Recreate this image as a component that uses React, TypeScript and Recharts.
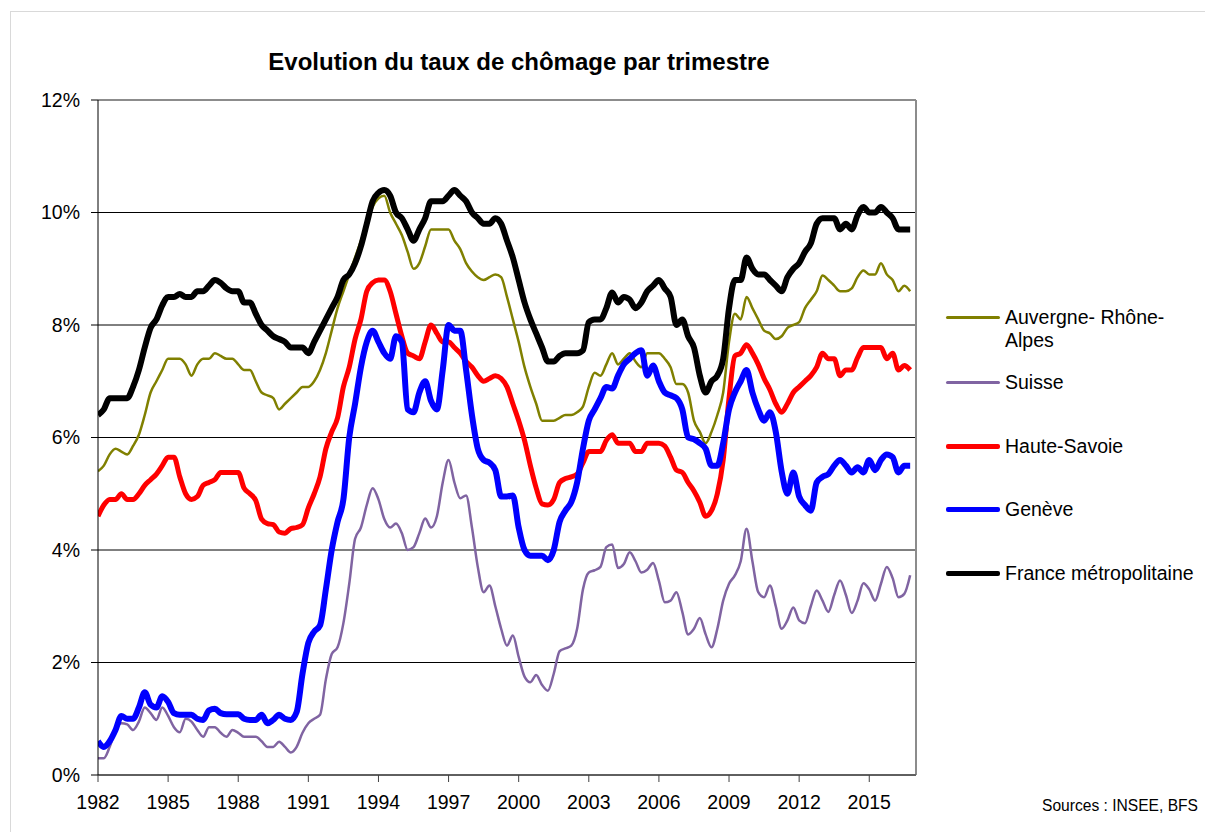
import React from 'react';
import { LineChart, Line, XAxis, YAxis, CartesianGrid, ReferenceLine } from 'recharts';

const FONT = '"Liberation Sans", Arial, sans-serif';

// quarters from 1982 T1 to 2016 T4
const quarters = Array.from({ length: 140 }, (_, i) => 1982 + i / 4);
const yearTicks = [1982, 1985, 1988, 1991, 1994, 1997, 2000, 2003, 2006, 2009, 2012, 2015];
const pctTicks = [0, 2, 4, 6, 8, 10, 12];

const auvergne = [
  5.4, 5.5, 5.7, 5.8,
  5.75, 5.7, 5.85, 6.05,
  6.4, 6.8, 7.0, 7.2,
  7.4, 7.4, 7.4, 7.3,
  7.1, 7.3, 7.4, 7.4,
  7.5, 7.45, 7.4, 7.4,
  7.3, 7.2, 7.2, 7.0,
  6.8, 6.75, 6.7, 6.5,
  6.6, 6.7, 6.8, 6.9,
  6.9, 7.0, 7.2, 7.5,
  7.9, 8.3, 8.6, 8.9,
  9.2, 9.5, 9.8, 10.1,
  10.25, 10.3, 10.0, 9.8,
  9.6, 9.3, 9.0, 9.1,
  9.4, 9.7, 9.7, 9.7,
  9.7, 9.5, 9.35, 9.1,
  8.95, 8.85, 8.8, 8.85,
  8.9, 8.85, 8.5, 8.1,
  7.7, 7.25, 6.9, 6.6,
  6.3, 6.3, 6.3, 6.35,
  6.4, 6.4, 6.45, 6.55,
  6.9, 7.15, 7.1, 7.3,
  7.5, 7.3, 7.4, 7.5,
  7.35, 7.25, 7.5, 7.5,
  7.5, 7.4, 7.25, 6.95,
  6.95, 6.8, 6.3, 6.1,
  5.9, 6.1, 6.4, 6.8,
  7.7, 8.2, 8.1, 8.5,
  8.3, 8.1, 7.9, 7.85,
  7.75, 7.8, 7.95, 8.0,
  8.05, 8.3, 8.45, 8.6,
  8.88, 8.8, 8.7, 8.6,
  8.6, 8.65, 8.85, 8.97,
  8.9, 8.9, 9.1, 8.9,
  8.8, 8.6, 8.7, 8.6,
];

const suisse = [
  0.3, 0.3, 0.5, 0.8,
  0.92, 0.9, 0.8, 0.95,
  1.2, 1.1, 0.98, 1.2,
  1.05, 0.85, 0.76, 1.0,
  0.95, 0.8, 0.68, 0.85,
  0.85, 0.75, 0.68, 0.8,
  0.75, 0.68, 0.68, 0.68,
  0.6, 0.5, 0.5, 0.59,
  0.5, 0.4, 0.5, 0.75,
  0.92, 1.0, 1.07, 1.7,
  2.15, 2.27, 2.7, 3.4,
  4.2, 4.4, 4.8, 5.1,
  4.9, 4.55, 4.4, 4.47,
  4.3, 4.0, 4.05, 4.3,
  4.56, 4.4, 4.6, 5.2,
  5.6, 5.2, 4.92, 4.97,
  4.4, 3.7, 3.25, 3.37,
  3.0, 2.6, 2.3, 2.48,
  2.1, 1.75, 1.65, 1.78,
  1.6, 1.5, 1.8, 2.2,
  2.25, 2.3, 2.6, 3.3,
  3.6, 3.64, 3.7, 4.05,
  4.1, 3.68, 3.75, 3.96,
  3.8, 3.6, 3.65, 3.77,
  3.45, 3.07, 3.1, 3.25,
  2.9, 2.5, 2.6, 2.79,
  2.5, 2.27, 2.6, 3.1,
  3.4, 3.55, 3.8, 4.38,
  3.8, 3.25, 3.16, 3.37,
  3.0, 2.6, 2.75, 2.98,
  2.75, 2.7, 3.0, 3.28,
  3.1, 2.9, 3.2, 3.46,
  3.2, 2.88, 3.1, 3.41,
  3.3, 3.1, 3.4, 3.7,
  3.5, 3.16, 3.22, 3.55,
];

const hauteSavoie = [
  4.6, 4.8, 4.9, 4.9,
  5.0, 4.9, 4.9, 5.0,
  5.15, 5.25, 5.35, 5.5,
  5.65, 5.65, 5.3, 5.0,
  4.9, 4.95, 5.15, 5.2,
  5.25, 5.38, 5.38, 5.38,
  5.38, 5.1, 5.0, 4.88,
  4.55, 4.47, 4.45, 4.32,
  4.3, 4.38, 4.4, 4.45,
  4.75, 5.0, 5.3, 5.8,
  6.1, 6.35, 6.9, 7.25,
  7.75, 8.1, 8.6, 8.75,
  8.8, 8.8, 8.6, 8.2,
  7.8, 7.5, 7.45, 7.4,
  7.7, 8.0, 7.85, 7.7,
  7.7, 7.6, 7.5, 7.35,
  7.25, 7.1, 7.0, 7.05,
  7.1, 7.05, 6.9, 6.6,
  6.3, 5.95, 5.5, 5.1,
  4.82, 4.8, 4.9, 5.2,
  5.27, 5.3, 5.35, 5.55,
  5.75, 5.75, 5.75, 5.95,
  6.05, 5.9, 5.9, 5.9,
  5.75, 5.75, 5.9, 5.9,
  5.9, 5.85, 5.65, 5.42,
  5.38, 5.2, 5.05, 4.85,
  4.6, 4.7, 5.0, 5.6,
  6.7, 7.45, 7.5, 7.65,
  7.5, 7.3, 7.05, 6.85,
  6.6, 6.45, 6.6, 6.8,
  6.9, 7.0, 7.1, 7.25,
  7.5, 7.4, 7.4, 7.1,
  7.2, 7.2, 7.42, 7.6,
  7.6, 7.6, 7.6, 7.4,
  7.5, 7.2, 7.28, 7.2,
];

const geneve = [
  0.6, 0.5, 0.6, 0.8,
  1.05, 1.0, 1.0, 1.2,
  1.47, 1.25, 1.2, 1.4,
  1.3, 1.1, 1.07, 1.07,
  1.07, 1.0, 0.98, 1.15,
  1.18, 1.1, 1.08, 1.08,
  1.08, 1.0, 0.98, 0.98,
  1.07, 0.92, 0.98, 1.07,
  1.0, 0.98, 1.12, 1.8,
  2.35, 2.55, 2.66, 3.3,
  4.0, 4.5, 4.9, 6.0,
  6.6, 7.25, 7.7, 7.9,
  7.7, 7.5, 7.4, 7.8,
  7.7, 6.5, 6.45, 6.8,
  7.0, 6.65, 6.5, 7.2,
  8.0, 7.9, 7.9, 7.2,
  6.4, 5.8, 5.6, 5.55,
  5.42, 4.95, 4.95, 4.97,
  4.4, 4.0, 3.9, 3.9,
  3.9, 3.82, 4.0, 4.5,
  4.7, 4.85, 5.2, 5.8,
  6.3, 6.5, 6.7, 6.9,
  6.87, 7.1, 7.3, 7.4,
  7.5, 7.55, 7.1, 7.28,
  7.0, 6.8, 6.75, 6.7,
  6.5, 6.0, 5.97, 5.9,
  5.8, 5.5, 5.5, 5.9,
  6.5, 6.8, 7.0, 7.2,
  6.8, 6.5, 6.3, 6.45,
  6.1, 5.4, 5.0, 5.38,
  4.95, 4.8, 4.7, 5.2,
  5.3, 5.35, 5.5, 5.6,
  5.5, 5.38, 5.47, 5.38,
  5.6, 5.42, 5.6, 5.7,
  5.65, 5.38, 5.5, 5.5,
];

const france = [
  6.4, 6.5, 6.7, 6.7,
  6.7, 6.7, 6.9, 7.2,
  7.6, 7.95, 8.1, 8.35,
  8.5, 8.5, 8.55, 8.5,
  8.5, 8.6, 8.6, 8.7,
  8.8, 8.75, 8.65, 8.6,
  8.6, 8.4, 8.4, 8.2,
  8.0, 7.9, 7.8, 7.75,
  7.7, 7.6, 7.6, 7.6,
  7.5, 7.7, 7.9, 8.1,
  8.3, 8.5, 8.8, 8.9,
  9.1, 9.4, 9.8, 10.2,
  10.35, 10.4, 10.3, 10.0,
  9.9, 9.7, 9.5, 9.7,
  9.9, 10.2, 10.2, 10.2,
  10.3, 10.4, 10.3, 10.2,
  10.0, 9.9, 9.8, 9.8,
  9.9, 9.8, 9.5, 9.2,
  8.8, 8.4, 8.1, 7.85,
  7.6, 7.35, 7.35, 7.45,
  7.5, 7.5, 7.5, 7.55,
  8.05, 8.1, 8.1, 8.3,
  8.58, 8.4, 8.5, 8.45,
  8.3, 8.4, 8.6, 8.7,
  8.8, 8.65, 8.5, 8.0,
  8.1, 7.8, 7.6, 7.1,
  6.8, 7.0, 7.1, 7.4,
  8.3, 8.8, 8.8, 9.2,
  9.0, 8.9, 8.9, 8.8,
  8.7, 8.6, 8.85, 9.0,
  9.1, 9.3, 9.45, 9.8,
  9.9, 9.9, 9.9, 9.7,
  9.8, 9.7, 9.95, 10.1,
  10.0, 10.0, 10.1, 10.0,
  9.9, 9.7, 9.7, 9.7,
];

const series = [
  { key: 'auvergne', name: 'Auvergne- Rhône-Alpes', color: '#808000', width: 2.5, legendWidth: 3, legendY: 317, wrap: true },
  { key: 'suisse', name: 'Suisse', color: '#8064A2', width: 2.5, legendWidth: 3, legendY: 382, wrap: false },
  { key: 'hauteSavoie', name: 'Haute-Savoie', color: '#FF0000', width: 5, legendWidth: 5, legendY: 446, wrap: false },
  { key: 'geneve', name: 'Genève', color: '#0000FF', width: 6, legendWidth: 5, legendY: 509, wrap: false },
  { key: 'france', name: 'France métropolitaine', color: '#000000', width: 6, legendWidth: 5, legendY: 573, wrap: false },
];

const data = quarters.map((t, i) => ({
  t,
  auvergne: auvergne[i],
  suisse: suisse[i],
  hauteSavoie: hauteSavoie[i],
  geneve: geneve[i],
  france: france[i],
}));

const App = () => {
  return (
    <div style={{ position: 'fixed', left: 0, top: 0, width: 1205, height: 832, overflow: 'hidden', background: '#fff', fontFamily: FONT }}>
      <div style={{ position: 'absolute', left: 10, top: 11, width: 1300, height: 900, border: '1px solid #d9d9d9' }} />
      <div style={{ position: 'absolute', left: 0, top: 48, width: 1038, textAlign: 'center', fontSize: 24, fontWeight: 'bold', lineHeight: '28px', color: '#000' }}>
        Evolution du taux de chômage par trimestre
      </div>
      <div style={{ position: 'absolute', left: 0, top: 0 }}>
        <LineChart width={1205} height={832} data={data} margin={{ top: 100, right: 289, bottom: 17, left: 38 }}>
          <CartesianGrid vertical={false} stroke="#000" horizontalValues={pctTicks} />
          <ReferenceLine y={12} stroke="#8c8c8c" strokeWidth={2} />
          <ReferenceLine x={2017} stroke="#8c8c8c" strokeWidth={2} />
          <XAxis
            dataKey="t"
            type="number"
            domain={[1982, 2017]}
            ticks={yearTicks}
            allowDataOverflow
            height={40}
            tickSize={7}
            tickMargin={13}
            stroke="#404040"
            tick={{ fill: '#000', fontSize: 19.5, fontFamily: FONT }}
          />
          <YAxis
            type="number"
            domain={[0, 12]}
            ticks={pctTicks}
            width={60}
            tickSize={7}
            tickMargin={11}
            stroke="#000"
            tickFormatter={(v) => `${v}%`}
            tick={{ fill: '#000', fontSize: 19.5, fontFamily: FONT }}
          />
          {series.map((s) => (
            <Line
              key={s.key}
              type="monotone"
              dataKey={s.key}
              name={s.name}
              stroke={s.color}
              strokeWidth={s.width}
              dot={false}
              activeDot={false}
              isAnimationActive={false}
            />
          ))}
        </LineChart>
      </div>
      {series.map((s) => (
        <div key={s.key}>
          <div style={{ position: 'absolute', left: 946, top: s.legendY - s.legendWidth / 2, width: 54, height: s.legendWidth, background: s.color, borderRadius: 2 }} />
          <div
            style={{
              position: 'absolute',
              left: 1005,
              top: s.legendY - 11.5,
              width: s.wrap ? 175 : 'auto',
              whiteSpace: s.wrap ? 'normal' : 'nowrap',
              fontSize: 19.5,
              lineHeight: '23px',
              color: '#000',
            }}
          >
            {s.name}
          </div>
        </div>
      ))}
      <div style={{ position: 'absolute', right: 7, top: 797, fontSize: 15.6, lineHeight: '18px', color: '#000' }}>
        Sources : INSEE, BFS
      </div>
    </div>
  );
};

export default App;
